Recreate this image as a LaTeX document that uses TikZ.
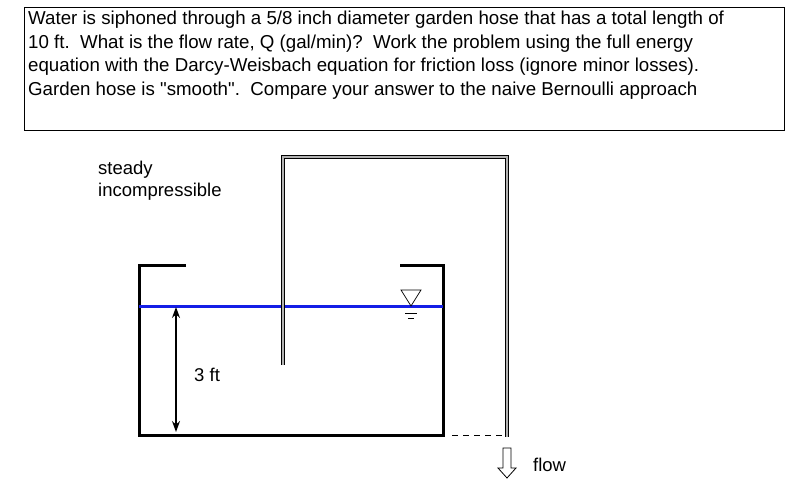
\documentclass[tikz,border=0pt]{standalone}
\usepackage{fontspec}
\setmainfont{Liberation Sans}
\usetikzlibrary{arrows.meta}
\definecolor{waterblue}{RGB}{20,30,230}
\tikzset{wall/.style={line width=3pt},
  hose/.style={double=gray!60, double distance=2pt, line width=0.9pt},
  label/.style={anchor=west, inner sep=0pt, font=\fontsize{18.5}{21}\selectfont}}
\begin{document}
\begin{tikzpicture}[x=1pt,y=-1pt]
  \useasboundingbox (0,0) rectangle (793,487);
  \draw [line width=0.8pt] (24,7) rectangle (784,130);
  \node (q) [anchor=north west, inner sep=0pt, align=left, font=\fontsize{18.7}{23.5}\selectfont] at (28,11)
  {Water is siphoned through a 5/8 inch diameter garden hose that has a total length of\\
  10 ft.\ \ What is the flow rate, Q (gal/min)?\ \ Work the problem using the full energy\\
  equation with the Darcy-Weisbach equation for friction loss (ignore minor losses).\\
  Garden hose is \textquotedbl smooth\textquotedbl.\ \ Compare your answer to the naive Bernoulli approach};

  \node (st) [label] at (98,170) {steady};
  \node (inc) [label] at (98,192) {incompressible};

  % tank
  \draw [wall] (186,265) -- (139,265) -- (139,435) -- (443,435) -- (443,265) -- (400,265);
  \draw [waterblue, line width=3pt] (139,306) -- (443,306);

  % free surface mark
  \draw [line width=0.7pt] (401,290) -- (421,290) -- (411,306) -- cycle;
  \draw [line width=0.7pt] (405,313) -- (417,313);
  \draw [line width=0.7pt] (408,318) -- (414,318);

  % hose
  \draw [hose] (283,365) -- (283,157) -- (507,157) -- (507,437);
  \draw [dash pattern=on 6pt off 5pt, line width=0.8pt] (452,435) -- (502,435);

  % depth
  \coordinate (d1) at (176,307);
  \coordinate (d2) at (176,432);
  \draw [{Stealth[length=11pt,width=8pt]}-{Stealth[length=11pt,width=8pt]}, line width=1.2pt] (d1) -- (d2);
  \node (h) [label] at (194,375) {3 ft};

  % flow
  \draw [line width=0.8pt] (503,448) -- (511,448) -- (511,468) -- (516,468) -- (507,478)
    -- (498,468) -- (503,468) -- cycle;
  \node (fl) [label] at (533,465) {flow};
\end{tikzpicture}
\end{document}
